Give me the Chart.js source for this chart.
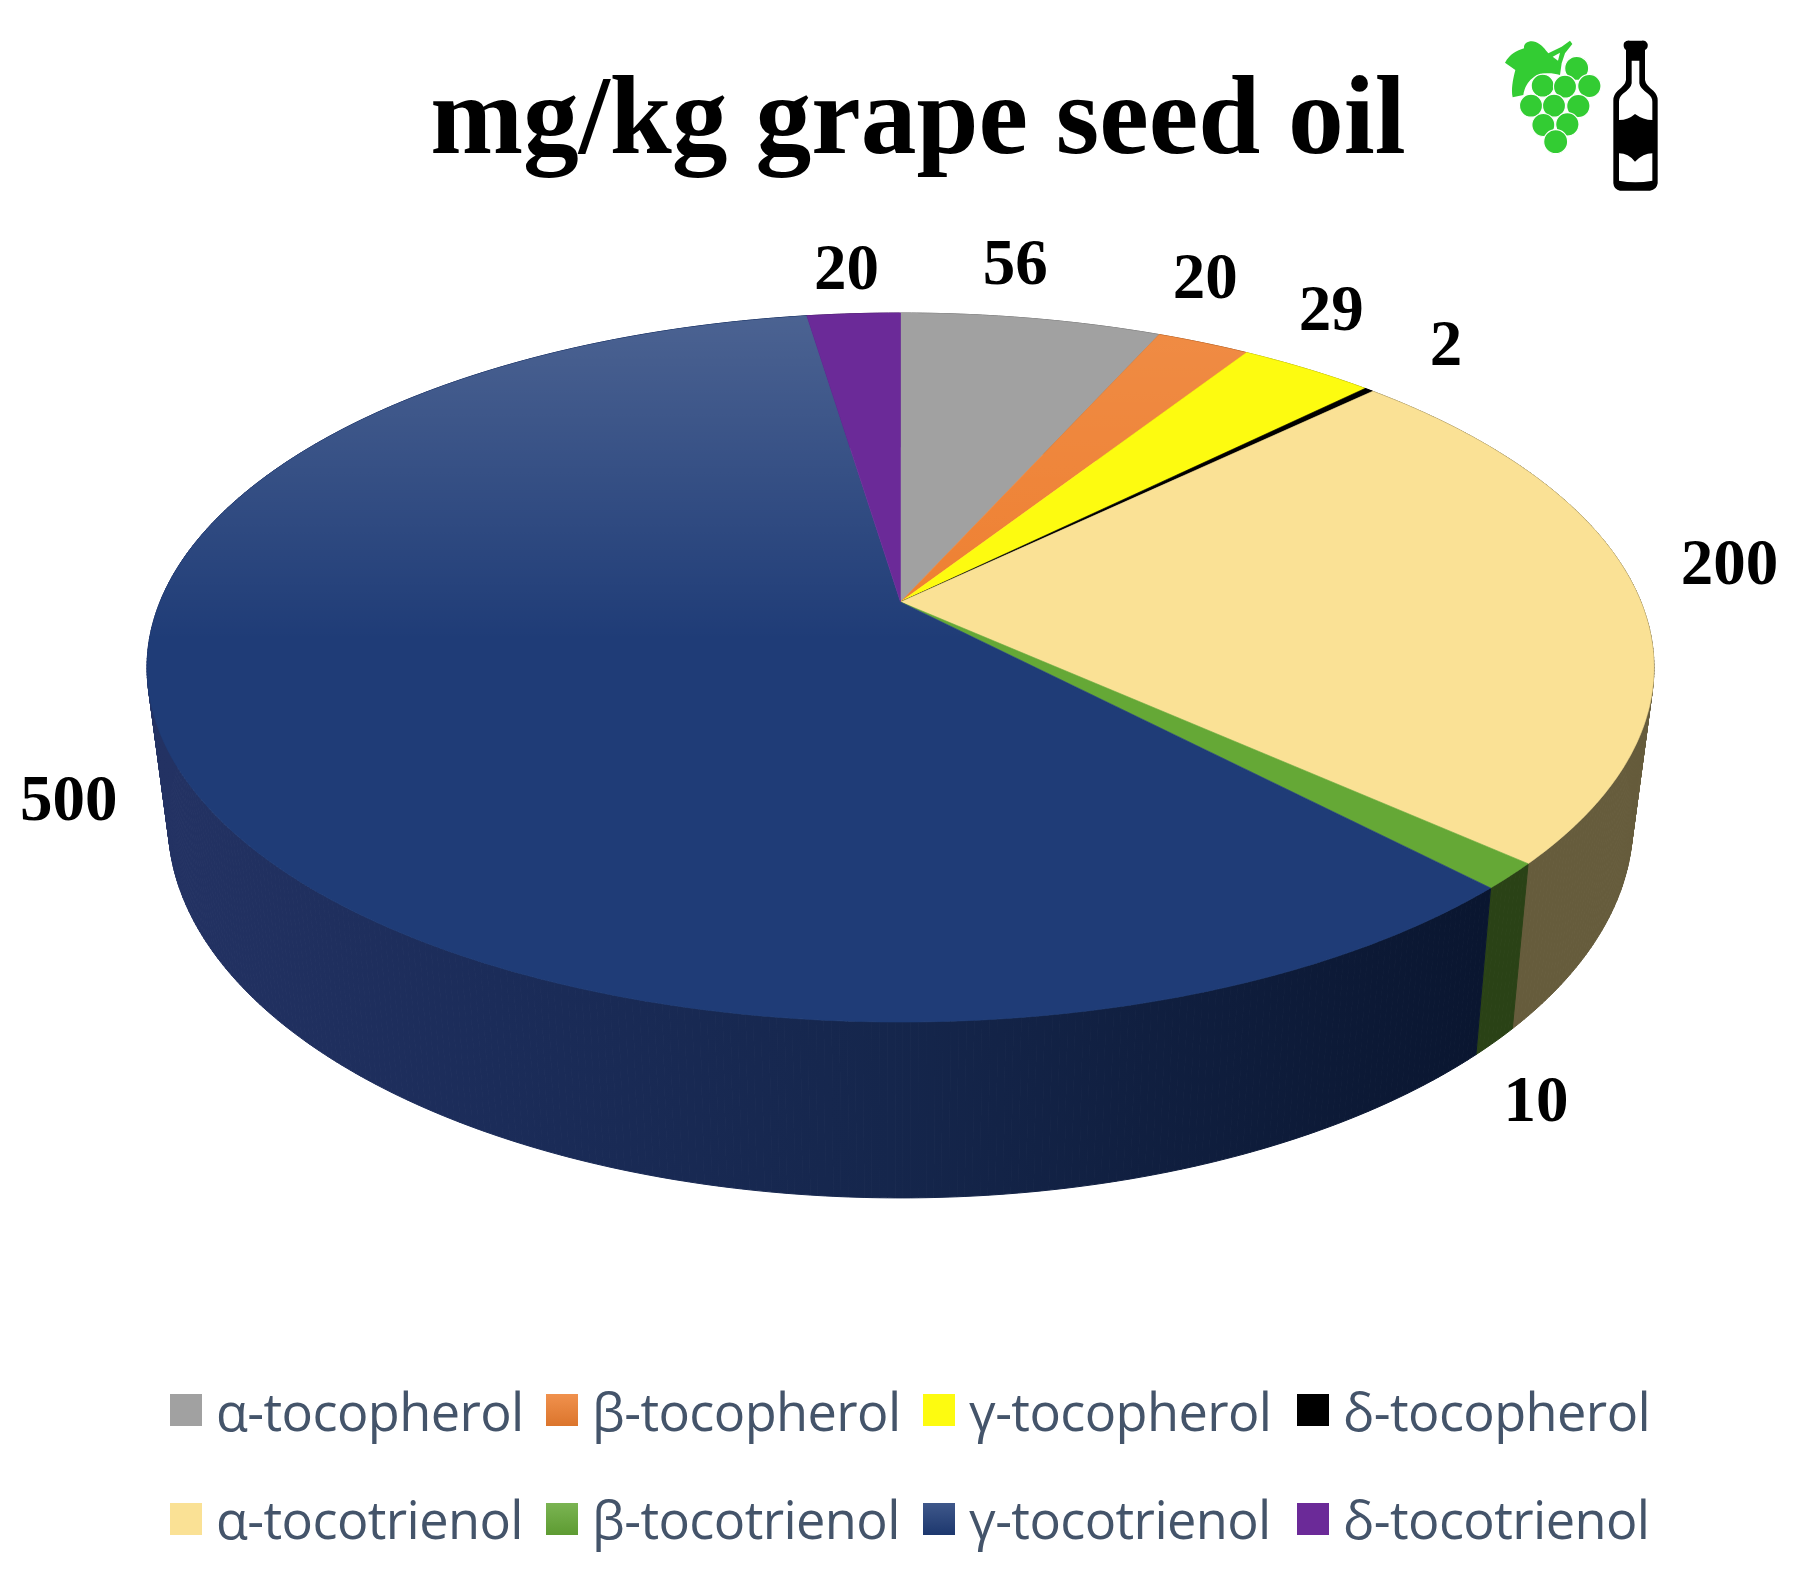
<!DOCTYPE html>
<html>
<head>
<meta charset="utf-8">
<title>mg/kg grape seed oil</title>
<script src="https://cdn.jsdelivr.net/npm/chart.js@4"></script>
<style>
    html, body { margin: 0; padding: 0; background: #fff; }
    #wrap { position: relative; width: 1804px; height: 1579px; overflow: hidden; }
    #pie { position: absolute; left: 0; top: 0; }
    #icons { position: absolute; left: 1480px; top: 20px; width: 220px; height: 190px; }
    #legend {
        position: absolute; left: 170px; top: 1376px;
        display: grid; grid-template-columns: 376px 377px 374px auto; grid-auto-rows: 108.5px;
        font-family: "Open Sans", sans-serif; font-size: 52.3px; color: #44546a; letter-spacing: -0.6px;
    }
    #legend .item { display: flex; align-items: center; height: 68px; white-space: nowrap; }
    #legend .box { width: 32px; height: 32px; margin-right: 14px; flex: none; }
</style>
</head>
<body>
<div id="wrap">
    <canvas id="pie" width="1804" height="1579"></canvas>
    <svg id="icons" viewBox="0 0 660 570">
        <path fill="#33cc33" d="M75 128 C90 102 110 92 132 85 C130 68 150 60 167 66 C185 73 195 88 205 100 L245 80 L270 62 L277 72 L255 100 L245 130 L240 165 C190 150 140 165 130 225 L98 232 C93 210 98 180 106 150 Z"/>
        <path fill="#fff" d="M218 110 L240 98 L234 122 Z"/>
        <g fill="#33cc33" stroke="#fff" stroke-width="3.5">
            <circle cx="290" cy="145" r="36"/><circle cx="188" cy="197" r="34.5"/><circle cx="255" cy="200" r="34.5"/>
            <circle cx="328" cy="198" r="35"/><circle cx="153" cy="257" r="34.5"/><circle cx="222" cy="257" r="34.5"/>
            <circle cx="295" cy="258" r="35"/><circle cx="190" cy="315" r="34.5"/><circle cx="262" cy="313" r="35"/>
            <circle cx="227" cy="365" r="36"/>
        </g>
        <path fill="#000" d="M432 68 Q440 60 450 62 H485 Q497 60 503 72 Q505 85 495 90 V180 Q497 195 520 212 Q533 225 533 240 V490 Q530 510 510 512 H420 Q402 510 400 490 V240 Q400 225 413 212 Q436 195 438 180 V90 Q428 82 432 68 Z"/>
        <path fill="#fff" d="M455 122 H478 V190 Q480 205 505 222 Q517 232 517 245 V300 Q490 300 465 282 Q445 300 417 300 V245 Q417 232 428 222 Q453 205 455 190 Z"/>
        <path fill="#fff" d="M417 400 Q445 400 465 425 Q490 400 517 400 V482 Q465 492 417 482 Z"/>
    </svg>
    <div id="legend"></div>
</div>
<script>
const categories = ['α-tocopherol', 'β-tocopherol', 'γ-tocopherol', 'δ-tocopherol',
    'α-tocotrienol', 'β-tocotrienol', 'γ-tocotrienol', 'δ-tocotrienol'];
const values = [56, 20, 29, 2, 200, 10, 500, 20];
const chartTitle = 'mg/kg grape seed oil';

const topColors = ['#a1a1a1', '#ee7f30', '#fdfb10', '#000000', '#fae195', '#65a836', '#1f3c77', '#6b2a98'];
const wallColors = ['#5e5e5e', '#8a4a1c', '#8f8e09', '#000000', '#665c3c', '#2a4216', null, '#3d1858'];
const sheenSlices = { 1: 0.1, 6: 0.2 };   // slice index: white at the far rim
const legendShaded = [1, 5, 6];

// the pie is a tilted disc seen in perspective, one projection for the top face and one for the bottom rim
const topDisc = { cx: 900.5, cy: 602, rx: 740.5, ry: 342.4, k: 0.1848 };
const baseDisc = { cx: 900.5, cy: 751, rx: 719, ry: 362, k: 0.19 };

// value label offset from the rim point at the middle of each slice
const labelOffsets = [[-16, -51], [2, -62], [24, -56], [77, -42], [91, -29], [26, 228], [-108, 37], [-7, -41]];

function project(disc, angle) {
    const w = 1 - disc.k * Math.sin(angle);
    return {
        x: disc.cx + disc.rx * Math.cos(angle) / w,
        y: disc.cy + disc.ry * Math.sin(angle) / w
    };
}

function blueWall(ctx) {
    const g = ctx.createLinearGradient(170, 0, 1480, 0);
    g.addColorStop(0, '#233263');
    g.addColorStop(0.25, '#1b2c59');
    g.addColorStop(0.55, '#15264c');
    g.addColorStop(1, '#0a1630');
    return g;
}

const pie3d = {
    id: 'pie3d',
    // the library has laid out the arcs, only the way they are painted changes
    beforeDatasetDraw(chart) {
        const ctx = chart.ctx;
        const arcs = chart.getDatasetMeta(0).data;
        const step = Math.PI / 360;
        ctx.save();

        arcs.forEach(function (arc, i) {
            const paint = wallColors[i] || blueWall(ctx);
            ctx.fillStyle = paint;
            ctx.strokeStyle = paint;
            ctx.lineWidth = 1;
            for (let a = arc.startAngle; a < arc.endAngle; a += step) {
                const b = Math.min(a + step, arc.endAngle);
                const p1 = project(topDisc, a), p2 = project(topDisc, b);
                const p3 = project(baseDisc, b), p4 = project(baseDisc, a);
                ctx.beginPath();
                ctx.moveTo(p1.x, p1.y);
                ctx.lineTo(p2.x, p2.y);
                ctx.lineTo(p3.x, p3.y);
                ctx.lineTo(p4.x, p4.y);
                ctx.closePath();
                ctx.fill();
                ctx.stroke();
            }
        });

        arcs.forEach(function (arc, i) {
            ctx.beginPath();
            ctx.moveTo(topDisc.cx, topDisc.cy);
            for (let a = arc.startAngle; a < arc.endAngle; a += step) {
                const p = project(topDisc, a);
                ctx.lineTo(p.x, p.y);
            }
            const end = project(topDisc, arc.endAngle);
            ctx.lineTo(end.x, end.y);
            ctx.closePath();
            ctx.fillStyle = arc.options.backgroundColor;
            ctx.strokeStyle = arc.options.backgroundColor;
            ctx.lineWidth = 0.6;
            ctx.fill();
            ctx.stroke();
            if (sheenSlices[i]) {
                const sheen = ctx.createLinearGradient(0, 313, 0, 640);
                sheen.addColorStop(0, 'rgba(255,255,255,' + sheenSlices[i] + ')');
                sheen.addColorStop(1, 'rgba(255,255,255,0)');
                ctx.fillStyle = sheen;
                ctx.fill();
            }
        });

        // value labels
        ctx.fillStyle = '#000';
        ctx.font = 'bold 65px "Liberation Serif"';
        ctx.textAlign = 'center';
        ctx.textBaseline = 'middle';
        arcs.forEach(function (arc, i) {
            const p = project(topDisc, (arc.startAngle + arc.endAngle) / 2);
            ctx.fillText(values[i], p.x + labelOffsets[i][0], p.y + labelOffsets[i][1]);
        });

        ctx.restore();
        return false;
    }
};

document.addEventListener("DOMContentLoaded", function () {
    new Chart(document.getElementById('pie'), {
        type: 'pie',
        data: {
            labels: categories,
            datasets: [{ data: values, backgroundColor: topColors, borderWidth: 0 }]
        },
        options: {
            responsive: false,
            animation: false,
            events: [],
            layout: { padding: { left: 32 } },
            plugins: {
                legend: { display: false },
                tooltip: { enabled: false },
                title: {
                    display: true,
                    text: chartTitle,
                    color: '#000',
                    font: { family: '"Liberation Serif"', size: 111.5, weight: 'bold' },
                    padding: { top: 57, bottom: 20 }
                }
            }
        },
        plugins: [pie3d]
    });

    // Legend rows are further apart than the built-in legend allows
    const legend = document.getElementById('legend');
    categories.forEach(function (name, i) {
        const item = document.createElement('div');
        item.className = 'item';
        const box = document.createElement('span');
        box.className = 'box';
        box.style.backgroundColor = topColors[i];
        if (legendShaded.includes(i)) {
            box.style.backgroundImage = 'linear-gradient(rgba(255,255,255,0.14), rgba(0,0,0,0.08))';
        }
        item.appendChild(box);
        item.appendChild(document.createTextNode(name));
        legend.appendChild(item);
    });
});
</script>
</body>
</html>
